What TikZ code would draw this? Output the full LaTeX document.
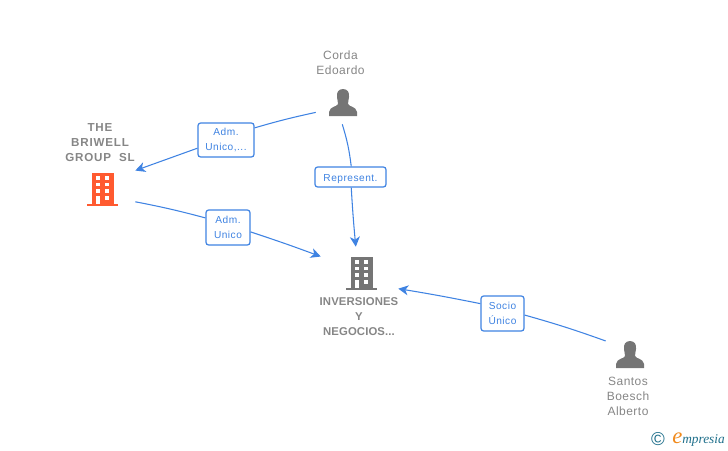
\documentclass[tikz,border=0pt]{standalone}
\usepackage{fontspec}
\setmainfont{Liberation Sans}
\newfontfamily\relfont[LetterSpace=5]{Liberation Sans}
\newfontfamily\namefont[LetterSpace=4]{Liberation Sans}
\newfontfamily\bigfont[LetterSpace=7]{Liberation Sans}
\newfontfamily\midfont[LetterSpace=1]{Liberation Sans}
\newfontfamily\logofont{Liberation Serif}
\usetikzlibrary{arrows.meta,positioning}
\definecolor{linkblue}{HTML}{3F83E2}
\definecolor{txtgray}{HTML}{868686}
\definecolor{icongray}{HTML}{757575}
\definecolor{bldorange}{HTML}{FF5A30}
\definecolor{emporange}{HTML}{F08A1D}
\definecolor{empteal}{HTML}{1F6F8B}
\tikzset{
  link/.style={draw=linkblue,line width=.8pt},
  linkend/.style={link,-{Stealth[length=7.5pt,width=7.5pt,inset=2.2pt]}},
  rel/.style={draw=linkblue,fill=white,rounded corners=2pt,line width=.9pt,text=linkblue,align=center,inner sep=0pt,
    font=\relfont\fontsize{7.6}{11.8}\selectfont,execute at begin node={\rule{0pt}{8.5pt}}},
  hit/.style={rectangle,inner sep=0pt},
  person/.style={align=center,text=txtgray,font=\namefont\fontsize{9}{11.25}\selectfont},
  company/.style={align=center,text=txtgray,font=\bigfont\fontsize{8.7}{11.25}\selectfont\bfseries},
  companytwo/.style={align=center,text=txtgray,font=\midfont\fontsize{8.5}{11.25}\selectfont\bfseries},
  building/.pic={
    \fill[pic actions] (-10.5,-16.3) rectangle (11.5,15);
    \fill[pic actions] (-15.5,14.5) rectangle (15.5,17);
    \foreach \yy in {-13,-6.5,0.2} {
      \fill[white] (-6.5,\yy) rectangle (-2.5,\yy+3.8);
      \fill[white] (3,\yy) rectangle (7.2,\yy+3.8);
    }
    \fill[white] (3,7) rectangle (7.2,11);
    \fill[white] (-6.5,7) rectangle (-2.5,14.5);
  },
  silhouette/.pic={
    \fill[pic actions] (0,-14) .. controls (-5,-14) and (-6.5,-10) .. (-6,-6)
      .. controls (-5.7,-3) and (-5,-1) .. (-5,1)
      .. controls (-6,4) and (-13,3) .. (-14,9) -- (-14,13) -- (14,13) -- (14,9)
      .. controls (13,3) and (6,4) .. (5,1)
      .. controls (5,-1) and (5.7,-3) .. (6,-6)
      .. controls (6.5,-10) and (5,-14) .. (0,-14) -- cycle;
  }
}
\begin{document}
\begin{tikzpicture}[x=.75pt,y=-.75pt]
\useasboundingbox (0,0) rectangle (728,450);

% icons
\pic[fill=bldorange] at (102,189) {building};
\pic[fill=icongray] at (361,273) {building};
\pic[fill=icongray] at (343,103) {silhouette};
\pic[fill=icongray] at (630,355) {silhouette};

% hit boxes round the icons
\node[hit,minimum width=49.5pt,minimum height=30pt] (briwell) at (102,189) {};
\node[hit,minimum width=57.75pt,minimum height=39pt] (inv) at (359.5,273) {};
\node[hit,minimum width=40.5pt,minimum height=31.5pt] (corda) at (343,103) {};
\node[hit,minimum width=36pt,minimum height=33pt] (santos) at (630,355) {};

% names
\node[person] (cordaname) at (340.5,62.5) {Corda\\Edoardo};
\node[person] (santosname) at (628,396.5) {Santos\\Boesch\\Alberto};
\node[company] (briwellname) at (100,142.5) {THE\\BRIWELL\\GROUP\ \ SL};
\node[companytwo] (invname) at (359,317) {INVERSIONES\\Y\\NEGOCIOS...};

% relations
\node[rel,minimum width=42pt,minimum height=25.5pt] (adm1) at (226,140) {Adm.\\Unico,...};
\node[rel,minimum width=33pt,minimum height=26.25pt] (adm2) at (228,227.5) {Adm.\\Unico};
\node[rel,minimum width=53.25pt,minimum height=15pt] (repr) at (350.5,177) {Represent.};
\node[rel,minimum width=32.25pt,minimum height=26.25pt] (socio) at (502.5,313.5) {Socio\\Único};

\draw[link] (corda.199) to[bend right=2] (adm1.23);
\draw[linkend] (adm1.196) to (briwell.29);
\draw[link] (briwell.-21) to[bend left=2] (adm2.157);
\draw[linkend] (adm2.-11) to[bend left=1] (inv.157);
\draw[link] (corda.268) to[bend left=5] (repr.86);
\draw[linkend] (repr.-86) to[bend right=1] (inv.98);
\draw[link] (santos.150) to[bend right=2] (socio.-4);
\draw[linkend] (socio.156) to[bend right=1] (inv.-22);

% logo
\node[text=empteal,font=\fontsize{14}{14}\selectfont] (copy) at (658,439) {©};
\node[anchor=base west,inner sep=0pt,text=empteal,font=\logofont\fontsize{10}{12}\selectfont\itshape] (logo) at (672,443) {\textcolor{emporange}{\fontsize{17}{12}\selectfont e}mpresia};
\end{tikzpicture}
\end{document}
